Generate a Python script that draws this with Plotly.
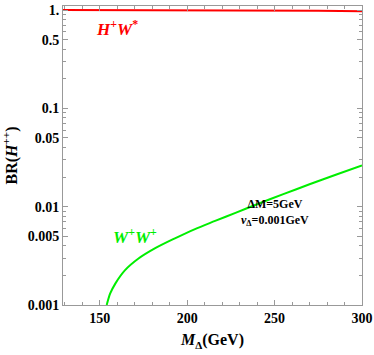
import plotly.graph_objects as go

# H+ W* channel (red)
m_hw = [129, 154, 180, 200, 225, 250, 275, 300]
br_hw = [1.0, 0.999, 0.996, 0.994, 0.991, 0.987, 0.981, 0.974]

# W+ W+ channel (green)
m_ww = [154, 156, 159, 164.5, 172, 182, 193, 204.5, 216, 228, 240, 255, 270, 285, 300]
br_ww = [0.001, 0.00131, 0.00166, 0.00226, 0.00295, 0.0038, 0.00476, 0.00592,
         0.00716, 0.00871, 0.01059, 0.0134, 0.0169, 0.0211, 0.0263]

y_ticks = [0.001, 0.005, 0.01, 0.05, 0.1, 0.5, 1]
y_labels = ["0.001", "0.005", "0.01", "0.05", "0.1", "0.5", "1."]
x_ticks = [150, 200, 250, 300]

font = "Liberation Serif"
axcol = "#999999"

fig = go.Figure()
fig.add_trace(go.Scatter(x=m_hw, y=br_hw, mode="lines",
                         line=dict(color="#ff0000", width=2)))
fig.add_trace(go.Scatter(x=m_ww, y=br_ww, mode="lines",
                         line=dict(color="#00ee00", width=2, shape="spline", smoothing=0.8)))

fig.update_xaxes(range=[129, 300], tickvals=x_ticks,
                 ticktext=[f"<b>{v}</b>" for v in x_ticks],
                 ticks="inside", ticklen=5, tickcolor=axcol,
                 showline=True, linecolor=axcol, linewidth=1, mirror="allticks",
                 showgrid=False, zeroline=False, automargin=False,
                 tickfont=dict(family=font, size=14, color="black", weight="bold"),
                 minor=dict(dtick=10, ticks="inside", ticklen=3, tickcolor=axcol),
                 title=dict(text="<b><i>M</i><sub>Δ</sub>(GeV)</b>",
                            font=dict(family=font, size=16, color="black"),
                            standoff=9))
fig.update_yaxes(type="log", range=[-3, 0.041], tickvals=y_ticks,
                 ticktext=[f"<b>{t}</b>" for t in y_labels],
                 ticks="inside", ticklen=5, tickcolor=axcol,
                 showline=True, linecolor=axcol, linewidth=1, mirror="allticks",
                 showgrid=False, zeroline=False, automargin=False,
                 tickfont=dict(family=font, size=14, color="black", weight="bold"),
                 minor=dict(dtick="D1", ticks="inside", ticklen=3, tickcolor=axcol),
                 title=dict(text="<b>BR(<i>H</i><sup>++</sup>)</b>",
                            font=dict(family=font, size=16, color="black"),
                            standoff=6))

# annotation positions in log10 units for the log y axis
fig.add_annotation(x=160, y=-0.18, xref="x", yref="y", showarrow=False,
                   text="<b><i>H</i><sup>+</sup><i>W</i><sup>*</sup></b>",
                   font=dict(family=font, size=17, color="#ff0000"))
fig.add_annotation(x=170, y=-2.3, xref="x", yref="y", showarrow=False,
                   text="<b><i>W</i><sup>+</sup><i>W</i><sup>+</sup></b>",
                   font=dict(family=font, size=17, color="#00ee00"))
fig.add_annotation(x=250, y=-2.055, xref="x", yref="y", showarrow=False,
                   text="<b>ΔM=5GeV<br><i>v</i><sub>Δ</sub>=0.001GeV</b>",
                   font=dict(family=font, size=12, color="black"),
                   align="center")

fig.update_layout(width=374, height=355, showlegend=False,
                  margin=dict(l=63, r=12, t=6, b=50),
                  plot_bgcolor="white", paper_bgcolor="white")

fig.write_html("out.html", config={"displayModeBar": False},
               post_script="document.body.style.margin='0';")
